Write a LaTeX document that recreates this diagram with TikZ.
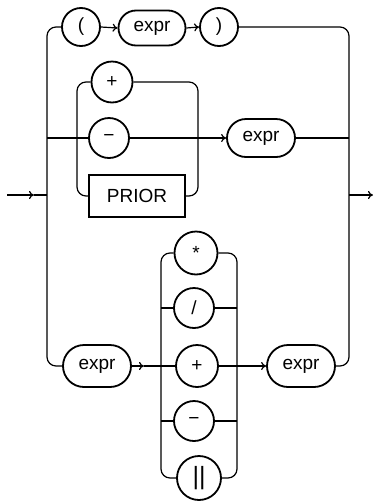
\documentclass[tikz,border=0pt]{standalone}
\usepackage{fontspec}
\setmainfont{Liberation Sans}
\usetikzlibrary{arrows.meta,shapes.misc,calc}
\tikzset{
  tok/.style={draw, line width=1.8pt, circle, inner sep=0pt, minimum size=38pt},
  ntm/.style={draw, line width=1.8pt, rounded rectangle, inner sep=0pt,
              minimum width=68pt, minimum height=38pt},
  kwd/.style={draw, line width=1.4pt, rectangle, inner sep=0pt,
              minimum width=96pt, minimum height=42pt},
  wire/.style={line width=1.2pt, rounded corners=9pt},
}
\begin{document}
\begin{tikzpicture}[x=1pt, y=-1pt, font=\fontsize{19}{19}\selectfont, >={To[length=5pt,width=8pt]}]
    \useasboundingbox (0,0) rectangle (376,504);
    % first branch: ( expr )
    \node[tok] (lpar) at (81,27) {(};
    \node[ntm, minimum width=67pt, minimum height=35pt] (expr1) at (152,28) {expr};
    \node[tok] (rpar) at (219,27) {)};
    % second branch: unary operators
    \node[tok, minimum size=41pt] (uplus) at (112,82) {+};
    \node[tok, minimum size=40pt] (uminus) at (109,138) {−};
    \node[kwd] (prior) at (137,196) {PRIOR};
    \node[ntm] (expr2) at (261,138) {expr};
    % third branch: binary operators
    \node[ntm, minimum height=42pt] (expr3) at (97,366) {expr};
    \node[tok, minimum size=43pt] (times) at (196,253) {*};
    \node[tok, minimum size=40pt] (divide) at (194,308) {/};
    \node[tok, minimum size=42pt] (bplus) at (197,366) {+};
    \node[tok, minimum size=40pt] (bminus) at (194,421) {−};
    \node[tok, minimum size=44pt, font=\fontsize{25}{25}\selectfont] (concat) at (199,478) {||};
    \node[ntm, minimum height=42pt] (expr4) at (301,366) {expr};
    % rails
    \coordinate (lrail) at (47,195);
    \coordinate (rrail) at (349,195);
    \coordinate (start) at (7,195);
    \coordinate (stip) at (34,195);
    \coordinate (finish) at (373,195);
    \coordinate (irl) at (77,138);
    \coordinate (irr) at (198,138);
    \coordinate (ocl) at (161,366);
    \coordinate (ocr) at (237,366);
    \coordinate (btip) at (144,366);
    \draw[wire, ->] (start) -- (stip);
    \draw[wire] (stip) -- (lrail);
    \draw[wire, ->] (rrail) -- (finish);
    \draw[wire] (lpar.west) -| (lrail) |- (expr3.west);
    \draw[wire] (rpar.east) -| (rrail) |- (expr4.east);
    % first branch
    \draw[wire, ->] (lpar.east) -- (expr1.west);
    \draw[wire, ->] (expr1.east) -- (rpar.west);
    % second branch
    \draw[wire] (uminus.west -| lrail) -- (uminus.west);
    \draw[wire, ->] (uminus.east) -- (expr2.west);
    \draw[wire] (expr2.east) -- (expr2.east -| rrail);
    \draw[wire] (uplus.west) -| (irl) |- (prior.west);
    \draw[wire] (uplus.east) -| (irr) |- (prior.east);
    % third branch
    \draw[wire, ->] (expr3.east) -- (btip);
    \draw[wire] (btip) -- (bplus.west);
    \draw[wire, ->] (bplus.east) -- (expr4.west);
    \draw[wire] (times.west) -| (ocl) |- (concat.west);
    \draw[wire] (times.east) -| (ocr) |- (concat.east);
    \draw[wire] (divide.west -| ocl) -- (divide.west);
    \draw[wire] (divide.east) -- (divide.east -| ocr);
    \draw[wire] (bminus.west -| ocl) -- (bminus.west);
    \draw[wire] (bminus.east) -- (bminus.east -| ocr);
\end{tikzpicture}
\end{document}
